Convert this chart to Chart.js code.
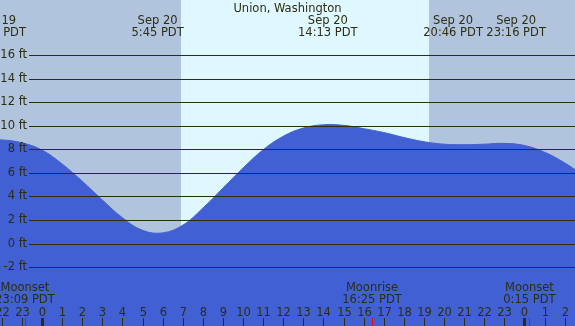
<!DOCTYPE html>
<html>
<head>
<meta charset="utf-8">
<script src="https://cdn.jsdelivr.net/npm/chart.js@4/dist/chart.umd.min.js"></script>
<style>
  html, body { margin: 0; padding: 0; background: #b0c4de; }
  #wrap { width: 575px; height: 326px; }
</style>
</head>
<body>
<div id="wrap"><canvas id="tide" width="575" height="326"></canvas></div>
<script>
// hourly readings, hours relative to midnight Sep 20 (PDT), heights in ft
const hours   = [-3, -2, -1, 0, 1, 2, 3, 4, 5, 6, 7, 8, 9, 10, 11, 12, 13, 14, 15, 16, 17, 18, 19, 20, 21, 22, 23, 24, 25, 26, 27]
const heights = [8.75, 8.79, 8.55, 7.93, 6.75, 5.29, 3.7, 2.19, 1.12, 0.9, 1.55, 3.0, 4.7, 6.4, 7.95, 9.1, 9.8, 10.08, 10.03, 9.75, 9.42, 9.0, 8.64, 8.43, 8.39, 8.43, 8.5, 8.32, 7.75, 6.85, 5.7]

const gridFeet = [-2, 0, 2, 4, 6, 8, 10, 12, 14, 16]
const hourTicks = [-2, -1, 0, 1, 2, 3, 4, 5, 6, 7, 8, 9, 10, 11, 12, 13, 14, 15, 16, 17, 18, 19, 20, 21, 22, 23, 24, 25, 26]
const midnights = [0, 24]

const sunrise = 6.92
const sunset = 19.25

const tideEventHours = [-2.28, 5.75, 14.22, 20.77, 23.27]
const tideEventDates = ['Sep 19', 'Sep 20', 'Sep 20', 'Sep 20', 'Sep 20']
const tideEventTimes = ['21:43 PDT', '5:45 PDT', '14:13 PDT', '20:46 PDT', '23:16 PDT']

const moonHours = [-0.85, 16.42, 24.25]
const moonNames = ['Moonset', 'Moonrise', 'Moonset']
const moonTimes = ['23:09 PDT', '16:25 PDT', '0:15 PDT']

const title = 'Union, Washington'

const FONT = '11.5px "DejaVu Sans"'
const INK = '#2d2d0f'
const NIGHT = '#b0c4de'
const DAY = '#dff7ff'
const WATER = 'rgb(65,96,212)'

const backdrop = {
  id: 'backdrop',
  beforeDraw(chart) {
    const { ctx, scales: { x } } = chart
    ctx.save()
    ctx.fillStyle = NIGHT
    ctx.fillRect(0, 0, chart.width, chart.height)
    ctx.fillStyle = DAY
    const x0 = Math.round(x.getPixelForValue(sunrise))
    const x1 = Math.round(x.getPixelForValue(sunset))
    ctx.fillRect(x0, 0, x1 - x0, chart.height)
    ctx.restore()
  }
}

const overlay = {
  id: 'overlay',
  afterDatasetsDraw(chart) {
    const { ctx, scales: { x, y } } = chart
    const W = chart.width
    ctx.save()
    ctx.font = FONT
    ctx.fillStyle = INK
    ctx.strokeStyle = INK
    ctx.lineWidth = 1

    // horizontal grid + ft labels
    gridFeet.forEach(v => {
      const py = Math.round(y.getPixelForValue(v)) + 0.5
      ctx.beginPath()
      ctx.moveTo(29, py)
      ctx.lineTo(W, py)
      ctx.stroke()
      ctx.textAlign = 'right'
      ctx.textBaseline = 'middle'
      ctx.fillText(v + ' ft', 27, py)
    })

    // title
    ctx.textAlign = 'center'
    ctx.textBaseline = 'alphabetic'
    ctx.fillText(title, W / 2, 12)

    // tide event labels, nudged apart if they collide
    const cx = tideEventHours.map(h => x.getPixelForValue(h))
    const widths = tideEventTimes.map(t => ctx.measureText(t).width)
    for (let i = 1; i < cx.length; i++) {
      const need = (widths[i - 1] + widths[i]) / 2 + 3.4
      const gap = cx[i] - cx[i - 1]
      if (gap < need) {
        const d = (need - gap) / 2
        cx[i - 1] -= d
        cx[i] += d
      }
    }
    cx.forEach((c, i) => {
      ctx.fillText(tideEventDates[i], c, 23.5)
      ctx.fillText(tideEventTimes[i], c, 35.5)
    })

    // moon labels
    moonHours.forEach((h, i) => {
      const c = x.getPixelForValue(h)
      ctx.fillText(moonNames[i], c, 291)
      ctx.fillText(moonTimes[i], c, 302.5)
    })

    // hour ticks and labels
    hourTicks.forEach(h => {
      const px = Math.round(x.getPixelForValue(h))
      const lab = String(((h % 24) + 24) % 24)
      ctx.fillText(lab, px + 0.5, 315.5)
      const wide = midnights.includes(h)
      ctx.fillRect(wide ? px - 1 : px, 318, wide ? 3 : 1, 8)
    })

    // moon ticks
    ctx.fillStyle = '#ff0000'
    moonHours.forEach(h => {
      const px = Math.round(x.getPixelForValue(h))
      ctx.fillRect(px, 318, 1, 8)
    })
    ctx.restore()
  }
}

const points = hours.map((h, i) => ({ x: h, y: heights[i] }))

new Chart(document.getElementById('tide').getContext('2d'), {
  type: 'line',
  data: {
    datasets: [{
      data: points,
      fill: 'start',
      backgroundColor: WATER,
      borderColor: WATER,
      borderWidth: 1,
      pointRadius: 0,
      tension: 0.4
    }]
  },
  options: {
    responsive: false,
    animation: false,
    layout: { padding: 0 },
    plugins: { legend: { display: false }, tooltip: { enabled: false } },
    scales: {
      x: { type: 'linear', display: false, min: -2.09, max: 26.517 },
      y: { display: false, min: -7.003, max: 20.67 }
    }
  },
  plugins: [backdrop, overlay]
})
</script>
</body>
</html>
